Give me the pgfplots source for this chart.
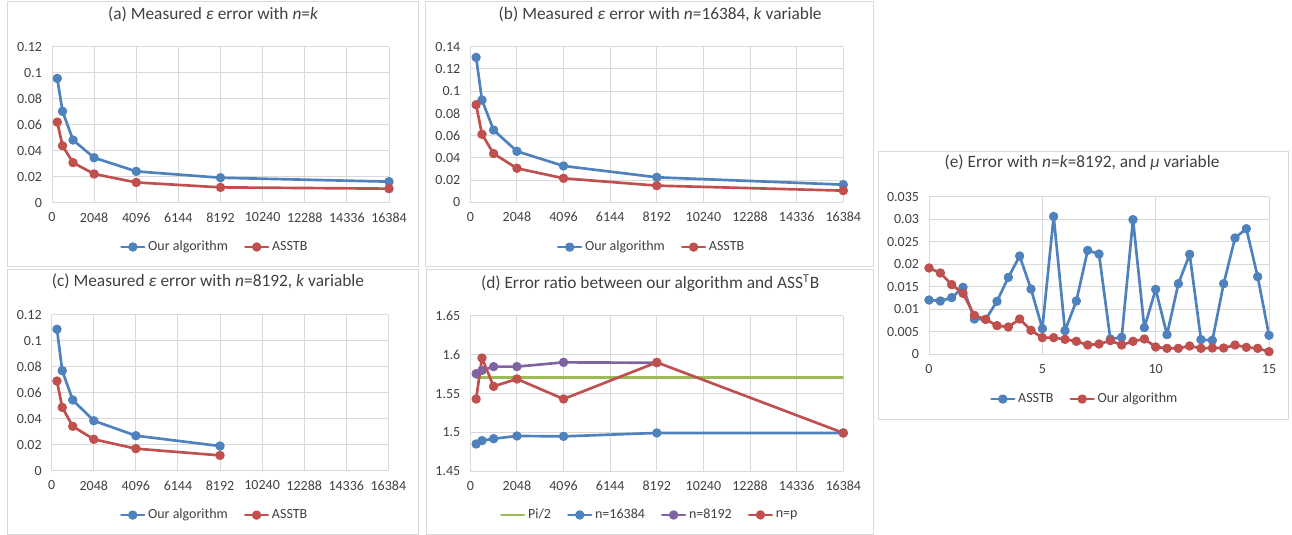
\documentclass[border=0pt]{standalone}
\usepackage{pgfplots}
\pgfplotsset{compat=1.18}
\usepackage{fontspec}
\setmainfont{Carlito}
\definecolor{cblue}{HTML}{4F81BD}
\definecolor{cred}{HTML}{C0504D}
\definecolor{cgreen}{HTML}{9BBB59}
\definecolor{cpurple}{HTML}{8064A2}
\definecolor{gridgray}{HTML}{D9D9D9}
\definecolor{framegray}{HTML}{D9D9D9}
\definecolor{txt}{HTML}{404040}
\pgfplotsset{
  panel/.style={
    scale only axis,
    axis line style={draw=none},
    grid=major,
    major grid style={draw=gridgray, line width=0.75pt},
    major tick length=0pt,
    tick style={draw=none},
    scaled x ticks=false, scaled y ticks=false,
    ticklabel style={font=\fontsize{10.5}{12}\selectfont, text=txt},
    yticklabel style={xshift=-4pt},
    xticklabel style={yshift=-4pt},
    /pgf/number format/assume math mode=true,
    /pgf/number format/1000 sep={},
    legend style={draw=none, fill=none, font=\fontsize{10.5}{12}\selectfont, text=txt,
      legend columns=-1, anchor=center,
      /tikz/every even column/.append style={column sep=10pt}},
    title style={font=\fontsize{13}{15}\selectfont, text=txt, anchor=center},
    every axis plot/.append style={line width=2pt, line join=round, line cap=round, mark=*, mark size=2.5pt},
  },
  kaxis/.style={
    xmin=0, xmax=16384,
    xtick={0,2048,4096,6144,8192,10240,12288,14336,16384},
    xticklabel style={/pgf/number format/fixed, /pgf/number format/precision=0},
    yticklabel style={/pgf/number format/fixed, /pgf/number format/precision=2},
  },
}
\begin{document}
\begin{tikzpicture}
% frames
\draw[framegray, line width=0.75pt] (5.25pt,-1.5pt) rectangle (313.5pt,-199.5pt);
\draw[framegray, line width=0.75pt] (318.75pt,-1.5pt) rectangle (654.75pt,-199.5pt);
\draw[framegray, line width=0.75pt] (5.25pt,-201.75pt) rectangle (313.5pt,-400.5pt);
\draw[framegray, line width=0.75pt] (319.5pt,-201.75pt) rectangle (654.75pt,-400.5pt);
\draw[framegray, line width=0.75pt] (658.5pt,-113.25pt) rectangle (966pt,-314.25pt);

% (a)
\begin{axis}[panel, kaxis, at={(39pt,-152.03pt)}, anchor=south west,
  width=252.75pt, height=117pt, ymin=0, ymax=0.12,
  ytick={0,0.02,0.04,0.06,0.08,0.1,0.12},
  title={(a) Measured \textit{ε} error with \textit{n}=\textit{k}},
  title style={at={(0.478,1.158)}},
  legend style={at={(0.484,-0.284)}}]
\addplot[cblue, mark options={fill=cblue}] coordinates {(256,0.0956) (512,0.0703) (1024,0.0482) (2048,0.0346) (4096,0.0241) (8192,0.0192) (16384,0.0162)};
\addlegendentry{Our algorithm}
\addplot[cred, mark options={fill=cred}] coordinates {(256,0.062) (512,0.0438) (1024,0.0308) (2048,0.0221) (4096,0.0156) (8192,0.0118) (16384,0.0108)};
\addlegendentry{ASSTB}
\end{axis}

% (b)
\begin{axis}[panel, kaxis, at={(352.73pt,-151.73pt)}, anchor=south west,
  width=279.75pt, height=116.7pt, ymin=0, ymax=0.14,
  ytick={0,0.02,0.04,0.06,0.08,0.1,0.12,0.14},
  title={(b) Measured \textit{ε} error with \textit{n}=16384, \textit{k} variable},
  title style={at={(0.509,1.159)}},
  legend style={at={(0.487,-0.288)}}]
\addplot[cblue, mark options={fill=cblue}] coordinates {(256,0.1304) (512,0.092) (1024,0.065) (2048,0.0459) (4096,0.0327) (8192,0.0225) (16384,0.0159)};
\addlegendentry{Our algorithm}
\addplot[cred, mark options={fill=cred}] coordinates {(256,0.0878) (512,0.0612) (1024,0.0438) (2048,0.0306) (4096,0.0216) (8192,0.015) (16384,0.0105)};
\addlegendentry{ASSTB}
\end{axis}

% (c)
\begin{axis}[panel, kaxis, at={(38.78pt,-353.03pt)}, anchor=south west,
  width=252.5pt, height=116.8pt, ymin=0, ymax=0.12,
  ytick={0,0.02,0.04,0.06,0.08,0.1,0.12},
  title={(c) Measured \textit{ε} error with \textit{n}=8192, \textit{k} variable},
  title style={at={(0.464,1.167)}},
  legend style={at={(0.485,-0.285)}}]
\addplot[cblue, mark options={fill=cblue}] coordinates {(256,0.109) (512,0.0771) (1024,0.0545) (2048,0.0385) (4096,0.027) (8192,0.019)};
\addlegendentry{Our algorithm}
\addplot[cred, mark options={fill=cred}] coordinates {(256,0.0691) (512,0.0488) (1024,0.0342) (2048,0.0242) (4096,0.017) (8192,0.0118)};
\addlegendentry{ASSTB}
\end{axis}

% (d)
\begin{axis}[panel, kaxis, at={(352.73pt,-353.48pt)}, anchor=south west,
  width=279.75pt, height=116.5pt, ymin=1.45, ymax=1.65,
  ytick={1.45,1.5,1.55,1.6,1.65},
  title={(d) Error ratio between our algorithm and ASS\textsuperscript{T}B},
  title style={at={(0.482,1.161)}},
  legend style={at={(0.482,-0.281)}}]
\addplot[cgreen, no marks] coordinates {(256,1.5708) (512,1.5708) (1024,1.5708) (2048,1.5708) (4096,1.5708) (8192,1.5708) (16384,1.5708)};
\addlegendentry{Pi/2}
\addplot[cblue, mark options={fill=cblue}] coordinates {(256,1.4852) (512,1.4895) (1024,1.492) (2048,1.4955) (4096,1.495) (8192,1.4994) (16384,1.4994)};
\addlegendentry{n=16384}
\addplot[cpurple, mark options={fill=cpurple}] coordinates {(256,1.5757) (512,1.58) (1024,1.5848) (2048,1.5848) (4096,1.5903) (8192,1.5897)};
\addlegendentry{n=8192}
\addplot[cred, mark options={fill=cred}] coordinates {(256,1.5431) (512,1.5959) (1024,1.5594) (2048,1.5689) (4096,1.5431) (8192,1.5903) (16384,1.4994)};
\addlegendentry{n=p}
\end{axis}

% (e)
\begin{axis}[panel, at={(696.75pt,-265.73pt)}, anchor=south west,
  width=255pt, height=118.2pt, xmin=0, xmax=15, ymin=0, ymax=0.035,
  xtick={0,5,10,15},
  ytick={0,0.005,0.01,0.015,0.02,0.025,0.03,0.035},
  yticklabel style={/pgf/number format/fixed, /pgf/number format/precision=3},
  title={(e) Error with \textit{n}=\textit{k}=8192, and \textit{μ} variable},
  title style={at={(0.45,1.163)}},
  legend style={at={(0.459,-0.284)}}]
\addplot[cblue, mark options={fill=cblue}] coordinates {
(0,0.01206) (0.5,0.01184) (1,0.01258) (1.5,0.01487) (2,0.00784) (2.5,0.00777) (3,0.01177) (3.5,0.01709) (4,0.02183) (4.5,0.0145) (5,0.0057) (5.5,0.0306) (6,0.00525) (6.5,0.01184) (7,0.02309) (7.5,0.02227) (8,0.0034) (8.5,0.00377) (9,0.0299) (9.5,0.00592) (10,0.01443) (10.5,0.00437) (11,0.01569) (11.5,0.0222) (12,0.00326) (12.5,0.00311) (13,0.01569) (13.5,0.02583) (14,0.0279) (14.5,0.01724) (15,0.00422)};
\addlegendentry{ASSTB}
\addplot[cred, mark options={fill=cred}] coordinates {
(0,0.01917) (0.5,0.01806) (1,0.01547) (1.5,0.01354) (2,0.00866) (2.5,0.00777) (3,0.00636) (3.5,0.00607) (4,0.00784) (4.5,0.00533) (5,0.0037) (5.5,0.0037) (6,0.00333) (6.5,0.00289) (7,0.00207) (7.5,0.00229) (8,0.00303) (8.5,0.00207) (9,0.00289) (9.5,0.0034) (10,0.00163) (10.5,0.00133) (11,0.00133) (11.5,0.00185) (12,0.00133) (12.5,0.0014) (13,0.0014) (13.5,0.00207) (14,0.00155) (14.5,0.00133) (15,0.00059)};
\addlegendentry{Our algorithm}
\end{axis}

\pgfresetboundingbox
\useasboundingbox (0pt,0pt) rectangle (969pt,-401.25pt);
\end{tikzpicture}
\end{document}
